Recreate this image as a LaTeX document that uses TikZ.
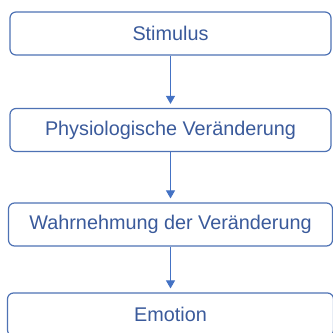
\documentclass[tikz,border=0pt]{standalone}
\usepackage{fontspec}
\setmainfont{Liberation Sans}
\usetikzlibrary{arrows.meta}
\definecolor{boxblue}{RGB}{78,114,180}
\definecolor{arrowblue}{RGB}{68,114,196}
\definecolor{textblue}{RGB}{58,90,155}
\tikzset{
  stage/.style={draw=boxblue,line width=1.2bp,rounded corners=6bp,fill=white,
    minimum height=43bp,text=textblue,inner sep=0pt,
    font=\fontsize{19.8bp}{24bp}\selectfont},
  flow/.style={draw=arrowblue,line width=1bp,-{Triangle[length=8bp,width=9bp]},shorten >=4bp}
}
\begin{document}
\begin{tikzpicture}[x=1bp,y=-1bp]
\useasboundingbox (0,0) rectangle (333,333);
\node[stage,minimum width=321bp] (stimulus) at (170.5,33.5) {Stimulus};
\node[stage,minimum width=321bp] (physio) at (170.5,130) {Physiologische Veränderung};
\node[stage,minimum width=324bp] (wahrn) at (170.5,224.5) {Wahrnehmung der Veränderung};
\node[stage,minimum width=326bp] (emotion) at (170.5,314.5) {Emotion};
\draw[flow] (stimulus) -- (physio);
\draw[flow] (physio) -- (wahrn);
\draw[flow] (wahrn) -- (emotion);
\end{tikzpicture}
\end{document}
